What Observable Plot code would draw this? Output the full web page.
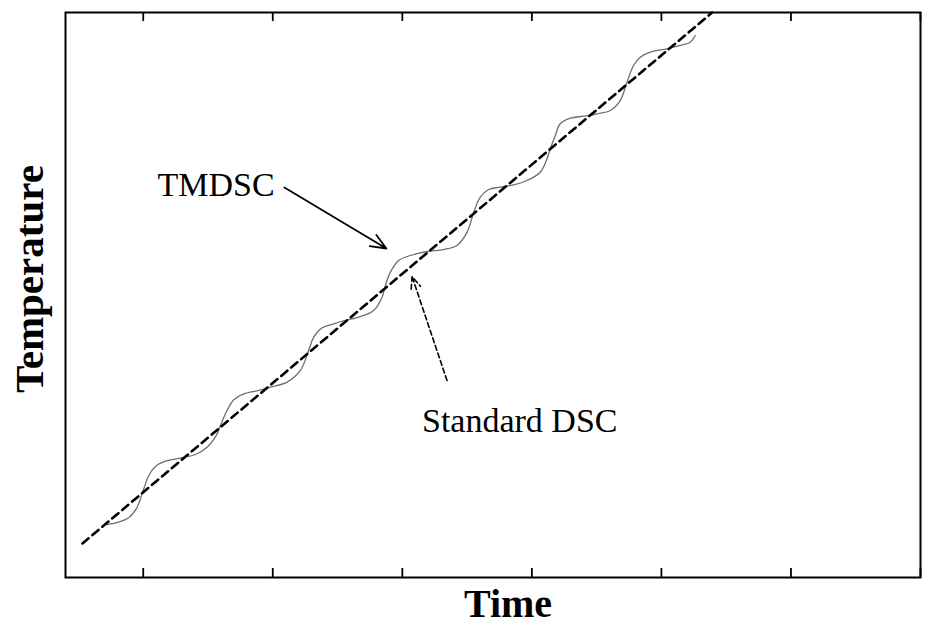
<!DOCTYPE html>
<html>
<head>
<meta charset="utf-8">
<script src="https://cdn.jsdelivr.net/npm/d3@7"></script>
<script src="https://cdn.jsdelivr.net/npm/@observablehq/plot@0.6"></script>
<style>
  html, body { margin: 0; padding: 0; background: #fff; }
</style>
</head>
<body>
<div id="chart"></div>
<script>
// Time axis tick positions (no labels shown)
const xTicks = [1, 2, 3, 4, 5, 6, 7];

// Standard DSC: linear heating ramp (dashed)
const standardTime = [0.531, 5.392];
const standardTemp = [6.02, 100];

// TMDSC: modulated temperature
const tmdscTime = [0.722, 0.809, 0.888, 0.953, 1.004, 1.043, 1.094, 1.172, 1.293, 1.403,
  1.493, 1.557, 1.596, 1.640, 1.699, 1.776, 1.892, 1.982, 2.111, 2.213,
  2.277, 2.316, 2.381, 2.470, 2.560, 2.676, 2.779, 2.844, 2.869, 2.908,
  2.972, 3.062, 3.191, 3.319, 3.422, 3.500, 3.556, 3.602, 3.666, 3.756,
  3.859, 3.963, 4.065, 4.117, 4.142, 4.181, 4.219, 4.297, 4.399, 4.503,
  4.605, 4.682, 4.739, 4.785, 4.837, 4.914, 5.043, 5.145, 5.223, 5.261];
const tmdscTemp = [9.38, 9.82, 10.57, 12.44, 15.70, 18.05, 19.65, 20.58, 21.19, 21.77,
  23.06, 24.83, 26.90, 29.26, 31.45, 32.51, 33.10, 33.68, 34.57, 36.64,
  40.18, 42.53, 44.19, 44.90, 45.49, 46.19, 47.26, 49.61, 51.68, 54.04,
  56.11, 56.99, 57.70, 58.05, 58.76, 61.12, 64.96, 67.31, 68.67, 69.08,
  69.50, 70.27, 71.73, 74.11, 75.88, 78.23, 80.30, 81.29, 81.65, 82.07,
  82.65, 84.42, 87.96, 90.62, 92.09, 92.97, 93.58, 94.16, 94.74, 95.93];

// Annotations
const labelNames = ["TMDSC", "Standard DSC"];
const labelTime = [1.110, 3.152];
const labelTemp = [69.38, 27.70];
const arrowFromTime = [2.090, 3.345];
const arrowFromTemp = [69.03, 34.87];
const arrowToTime = [2.877, 3.075];
const arrowToTemp = [58.23, 53.27];

const standard = standardTime.map((t, i) => ({t, T: standardTemp[i]}));
const tmdsc = tmdscTime.map((t, i) => ({t, T: tmdscTemp[i]}));
const labels = labelNames.map((name, i) => ({name, t: labelTime[i], T: labelTemp[i]}));
const arrows = labelNames.map((name, i) => ({
  name, x1: arrowFromTime[i], y1: arrowFromTemp[i], x2: arrowToTime[i], y2: arrowToTemp[i]
}));

const W = 936, H = 624, mL = 65, mR = 16, mT = 12, mB = 47;
const innerHeight = H - mT - mB;
const tickLen = 9;
const yDomain = [0, 100];
const tickSpan = tickLen * (yDomain[1] - yDomain[0]) / innerHeight; // tick length in y units

const chart = Plot.plot({
  width: W,
  height: H,
  marginLeft: mL,
  marginRight: mR,
  marginTop: mT,
  marginBottom: mB,
  x: {domain: [0.4, 7.0], axis: null},
  y: {domain: yDomain, axis: null},
  style: {fontFamily: "'Liberation Serif', 'Times New Roman', serif", background: "#fff", color: "#000"},
  marks: [
    Plot.ruleX(xTicks, {x: d => d, y1: yDomain[1], y2: yDomain[1] - tickSpan, stroke: "#000", strokeWidth: 1.8}),
    Plot.ruleX(xTicks, {x: d => d, y1: yDomain[0], y2: yDomain[0] + tickSpan, stroke: "#000", strokeWidth: 1.8}),
    Plot.line(tmdsc, {x: "t", y: "T", curve: "catmull-rom", stroke: "#6e6e6e", strokeWidth: 1.3}),
    Plot.line(standard, {x: "t", y: "T", stroke: "#000", strokeWidth: 2.6, strokeDasharray: "8,5"}),
    Plot.arrow(arrows.slice(0, 1), {x1: "x1", y1: "y1", x2: "x2", y2: "y2", stroke: "#000", strokeWidth: 1.8, headLength: 14, headAngle: 45}),
    Plot.arrow(arrows.slice(1), {x1: "x1", y1: "y1", x2: "x2", y2: "y2", stroke: "#000", strokeWidth: 1.6, strokeDasharray: "5,3", headLength: 12, headAngle: 45}),
    Plot.text(labels, {x: "t", y: "T", text: "name", textAnchor: "start", lineAnchor: "middle", fontSize: 34, fill: "#000"}),
    Plot.frame({stroke: "#000", strokeWidth: 2}),
    Plot.text(["Time"], {frameAnchor: "bottom", textAnchor: "middle", lineAnchor: "middle", dy: 27, dx: 15, fontSize: 40, fontWeight: "bold", fill: "#000"}),
    Plot.text(["Temperature"], {frameAnchor: "left", textAnchor: "middle", lineAnchor: "middle", dx: -36, dy: -16, rotate: -90, fontSize: 41, fontWeight: "bold", fill: "#000"})
  ]
});
document.getElementById("chart").appendChild(chart);
</script>
</body>
</html>
